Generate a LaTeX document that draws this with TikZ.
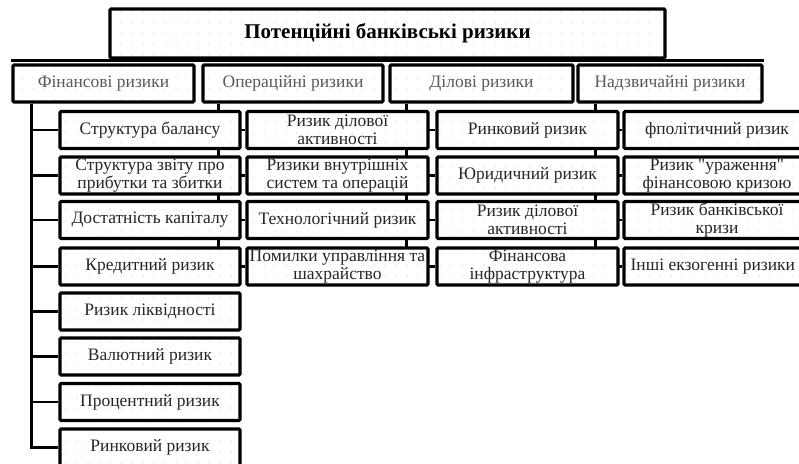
\documentclass[tikz,border=0pt]{standalone}
\usepackage{fontspec}
\setmainfont{Liberation Serif}
\usetikzlibrary{patterns.meta,backgrounds}
\newcommand\zw[1]{\makebox[0pt]{#1}}
\newcommand\sq{{\addfontfeatures{Ligatures=TeXOff}"}}
\begin{document}
\begin{tikzpicture}[x=1pt,y=-1pt,
  box/.style={draw=black, line width=3.2pt, rounded corners=1.2pt,
    preaction={fill=white}, pattern={Dots[distance=11pt,radius=0.5pt]},
    pattern color=black!35, inner sep=1pt, align=center,
    font=\fontsize{17.5}{17.5}\selectfont, text=black!85},
  kid/.style={box, minimum width=180pt, minimum height=37pt},
  head/.style={box, minimum height=37pt, text=black!65},
  link/.style={line width=2.4pt, draw=black}]
\useasboundingbox (0,0) rectangle (799,463);
\clip (0,0) rectangle (799,463);
% title
\node[box, minimum width=555pt, minimum height=49pt, text=black,
  font=\bfseries\fontsize{21}{24}\selectfont] (t) at (387.5,33.5) {Потенційні банківські ризики};
% level 2
\node[head, minimum width=181pt] (f) at (103.5,83.5) {Фінансові ризики};
\node[head, minimum width=180pt] (o) at (293,83.5) {Операційні ризики};
\node[head, minimum width=183pt] (d) at (481.5,83.5) {Ділові ризики};
\node[head, minimum width=184pt] (n) at (670,83.5) {Надзвичайні ризики};
% column 1
\node[kid] (a1) at (150,130) {Структура балансу};
\node[kid] (a2) at (150,175.5) {\zw{Структура звіту про}\\\zw{прибутки та збитки}};
\node[kid] (a3) at (150,220) {\zw{Достатність капіталу}};
\node[kid] (a4) at (150,266.5) {Кредитний ризик};
\node[kid] (a5) at (150,311.5) {Ризик ліквідності};
\node[kid] (a6) at (150,356.5) {Валютний ризик};
\node[kid] (a7) at (150,402) {Процентний ризик};
\node[kid] (a8) at (150,447.5) {Ринковий ризик};
% column 2
\node[kid, minimum width=181pt] (b1) at (337.5,130) {Ризик ділової\\активності};
\node[kid, minimum width=181pt] (b2) at (337.5,175.5) {\zw{Ризики внутрішніх}\\\zw{систем та операцій}};
\node[kid, minimum width=181pt] (b3) at (337.5,220) {\zw{Технологічний ризик}};
\node[kid, minimum width=181pt] (b4) at (337.5,266.5) {\zw{Помилки управління та}\\шахрайство};
% column 3
\node[kid, minimum width=181pt] (c1) at (527.5,130) {Ринковий ризик};
\node[kid, minimum width=181pt] (c2) at (527.5,175.5) {Юридичний ризик};
\node[kid, minimum width=181pt] (c3) at (527.5,220) {Ризик ділової\\активності};
\node[kid, minimum width=181pt] (c4) at (527.5,266.5) {Фінансова\\інфраструктура};
% column 4
\node[kid, minimum width=186pt] (e1) at (717,130) {фполітичний ризик};
\node[kid, minimum width=186pt] (e2) at (717,175.5) {\zw{Ризик \sq ураження\sq}\\\zw{фінансовою кризою}};
\node[kid, minimum width=186pt] (e3) at (717,220) {\zw{Ризик банківської}\\кризи};
\node[kid, minimum width=186pt] (e4) at (717,266.5) {};
\node[anchor=west, inner sep=0pt, text=black!85, font=\fontsize{17.5}{17.5}\selectfont] (e4t) at ([xshift=8pt]e4.west) {Інші екзогенні ризики};
% connectors
\begin{scope}[on background layer]
  \draw[link] ([yshift=3pt]f.north west) -- ([yshift=3pt]n.north east);
  \foreach \i in {1,...,8} \draw[link] ([xshift=20pt]f.south west) |- (a\i.west);
  \foreach \i in {1,...,4} {
    \draw[link] ([xshift=17pt]o.south west) |- (b\i.west);
    \draw[link] ([xshift=18pt]d.south west) |- (c\i.west);
    \draw[link] ([xshift=19pt]n.south west) |- (e\i.west);
  }
\end{scope}
\end{tikzpicture}
\end{document}
